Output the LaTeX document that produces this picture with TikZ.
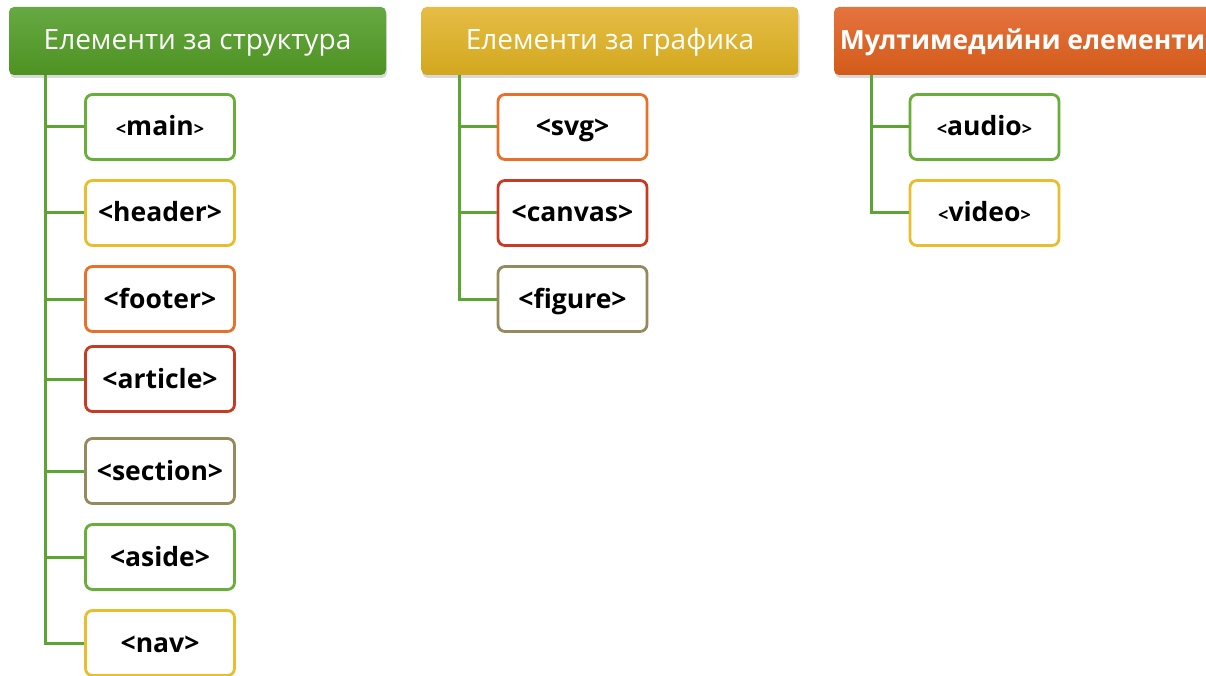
\documentclass[tikz,border=0pt]{standalone}
\usepackage{fontspec}
\setmainfont{Open Sans}
\usetikzlibrary{positioning,shadows}

\definecolor{GreenTop}{HTML}{66A943}
\definecolor{GreenBot}{HTML}{4E9222}
\definecolor{GoldTop}{HTML}{E6BD45}
\definecolor{GoldBot}{HTML}{D2A71E}
\definecolor{OrangeTop}{HTML}{E5733F}
\definecolor{OrangeBot}{HTML}{D35B19}
\definecolor{LinkGreen}{HTML}{5CA434}
\definecolor{EdgeGreen}{HTML}{6AAE3A}
\definecolor{EdgeYellow}{HTML}{E8BD2E}
\definecolor{EdgeOrange}{HTML}{E8702A}
\definecolor{EdgeRed}{HTML}{C83B22}
\definecolor{EdgeOlive}{HTML}{958A5E}

\newcommand{\lt}{{\fontsize{18}{20}\selectfont<}}
\newcommand{\gt}{{\fontsize{18}{20}\selectfont>}}

\begin{document}
\begin{tikzpicture}[x=1pt, y=-1pt,
    head/.style={rectangle, rounded corners=5pt, minimum width=377pt, minimum height=68pt,
      text=white, text height=24pt, text depth=6pt, font=\fontsize{28}{32}\selectfont,
      drop shadow={opacity=0.3, shadow xshift=1pt, shadow yshift=-3pt}},
    tag/.style={rectangle, draw, line width=2.8pt, rounded corners=7pt, fill=white,
      minimum width=149pt, minimum height=65pt, text height=22pt, text depth=4pt,
      font=\bfseries\fontsize{26.5}{30}\selectfont},
    link/.style={draw=LinkGreen, line width=3pt}]
  \useasboundingbox (0,0) rectangle (1206,676);

  % headers
  \node (struct) [head, top color=GreenTop, bottom color=GreenBot] at (197.5,41) {Елементи за структура};
  \node (graph) [head, top color=GoldTop, bottom color=GoldBot] at (610,41) {Елементи за графика};
  \node (media) [head, top color=OrangeTop, bottom color=OrangeBot, font=\bfseries\fontsize{26.5}{30}\selectfont] at (1022.5,41) {Мултимедийни елементи};

  % structure
  \node (main) [tag, draw=EdgeGreen] at (160,127) {\lt main\gt};
  \node (header) [tag, draw=EdgeYellow] at (160,213) {<header>};
  \node (footer) [tag, draw=EdgeOrange] at (160,299) {<footer>};
  \node (article) [tag, draw=EdgeRed] at (160,379) {<article>};
  \node (section) [tag, draw=EdgeOlive] at (160,471) {<section>};
  \node (aside) [tag, draw=EdgeGreen] at (160,557) {<aside>};
  \node (nav) [tag, draw=EdgeYellow] at (160,643) {<nav>};

  % graphics
  \node (svg) [tag, draw=EdgeOrange] at (572.5,127) {<svg>};
  \node (canvas) [tag, draw=EdgeRed] at (572.5,213) {<canvas>};
  \node (figure) [tag, draw=EdgeOlive] at (572.5,299) {<figure>};

  % multimedia
  \node (audio) [tag, draw=EdgeGreen] at (984.5,127) {\lt audio\gt};
  \node (video) [tag, draw=EdgeYellow] at (984.5,213) {\lt video\gt};

  % trunks
  \coordinate (struct-trunk) at ([xshift=37pt]struct.south west);
  \coordinate (graph-trunk) at ([xshift=38pt]graph.south west);
  \coordinate (media-trunk) at ([xshift=38pt]media.south west);

  \draw[link] (struct-trunk) |- (nav.west);
  \foreach \n in {main,header,footer,article,section,aside}
    \draw[link] (struct-trunk |- \n.west) -- (\n.west);

  \draw[link] (graph-trunk) |- (figure.west);
  \foreach \n in {svg,canvas}
    \draw[link] (graph-trunk |- \n.west) -- (\n.west);

  \draw[link] (media-trunk) |- (video.west);
  \draw[link] (media-trunk |- audio.west) -- (audio.west);
\end{tikzpicture}
\end{document}
